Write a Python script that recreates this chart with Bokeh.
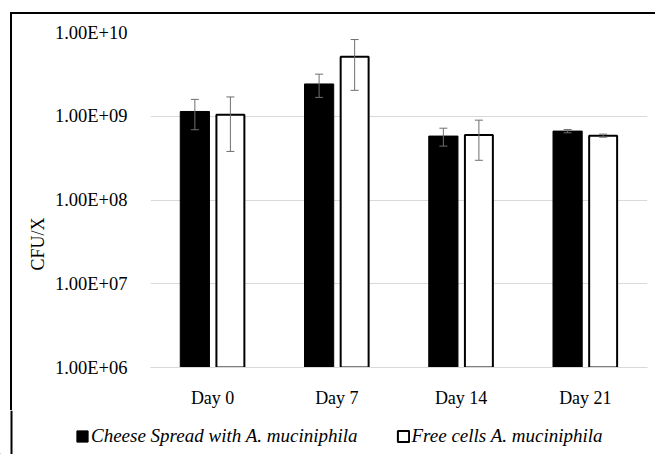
from bokeh.plotting import figure
from bokeh.layouts import column, row
from bokeh.models import (ColumnDataSource, Range1d, FixedTicker, CustomJSTickFormatter,
                          Whisker, TeeHead, Legend, LegendItem, Title, Span)
from bokeh.transform import dodge
from bokeh.embed import file_html
from bokeh.resources import INLINE

days = ["Day 0", "Day 7", "Day 14", "Day 21"]
cheese = [1.14e9, 2.43e9, 5.8e8, 6.65e8]
cheese_err = [0.45e9, 0.75e9, 0.14e9, 0.03e9]
free = [1.04e9, 5.14e9, 5.98e8, 5.87e8]
free_err = [0.66e9, 3.1e9, 0.30e9, 0.025e9]
y_ticks = [1e6, 1e7, 1e8, 1e9, 1e10]
series_names = ["Cheese Spread with A. muciniphila", "Free cells A. muciniphila"]

src = ColumnDataSource(dict(
    day=days,
    cheese=cheese,
    cheese_lo=[v - e for v, e in zip(cheese, cheese_err)],
    cheese_hi=[v + e for v, e in zip(cheese, cheese_err)],
    free=free,
    free_lo=[v - e for v, e in zip(free, free_err)],
    free_hi=[v + e for v, e in zip(free, free_err)],
))

FONT = "Liberation Serif"
BLACK_STYLE = dict(fill_color="black", line_color="black", line_width=1)
WHITE_STYLE = dict(fill_color="white", line_color="black", line_width=2)

p = figure(width=655, height=410, x_range=days, y_axis_type="log",
           y_range=Range1d(1e6, 1e10), output_backend="svg", toolbar_location=None,
           min_border_left=150, min_border_right=8, min_border_top=32, min_border_bottom=37)
p.outline_line_color = None
p.background_fill_color = "white"
p.border_fill_color = None
p.styles = {
    "background-color": "white",
    "background-image": "linear-gradient(black, black), linear-gradient(black, black)",
    "background-size": "2px 100%, 100% 2px",
    "background-position": "10px 12px, 10px 12px",
    "background-repeat": "no-repeat",
}

off = 0.143
r1 = p.vbar(x=dodge("day", -off, range=p.x_range), top="cheese", bottom=1e6, width=0.235,
            source=src, **BLACK_STYLE)
r2 = p.vbar(x=dodge("day", off, range=p.x_range), top="free", bottom=1e6, width=0.225,
            source=src, **WHITE_STYLE)

ecol = "#6f6f6f"
for key, o in (("cheese", -off), ("free", off)):
    w = Whisker(base=dodge("day", o, range=p.x_range), upper=key + "_hi", lower=key + "_lo",
                source=src, line_color=ecol, line_width=1, level="overlay",
                upper_head=TeeHead(size=8, line_color=ecol, line_width=1),
                lower_head=TeeHead(size=8, line_color=ecol, line_width=1))
    p.add_layout(w)

p.yaxis.ticker = FixedTicker(ticks=y_ticks, minor_ticks=[])
p.yaxis.formatter = CustomJSTickFormatter(code="""
    const e = Math.round(Math.log10(tick));
    const m = tick / Math.pow(10, e);
    const es = (e < 10 ? "0" + e : "" + e);
    return m.toFixed(2) + "E+" + es;
""")
p.yaxis.axis_line_color = None
p.yaxis.major_tick_line_color = None
p.yaxis.minor_tick_line_color = None
p.yaxis.major_label_standoff = 17
p.yaxis.major_label_text_font = FONT
p.yaxis.major_label_text_font_size = "18.5px"
p.yaxis.major_label_text_color = "black"

p.xaxis.axis_line_color = "#d9d9d9"
p.xaxis.major_tick_line_color = None
p.xaxis.minor_tick_line_color = None
p.xaxis.major_label_standoff = 14
p.xaxis.major_label_text_font = FONT
p.xaxis.major_label_text_font_size = "18px"
p.xaxis.major_label_text_color = "black"

p.xgrid.grid_line_color = None
p.ygrid.grid_line_color = "#d9d9d9"
p.ygrid.grid_line_width = 1

p.add_layout(Title(text="CFU/X", align="left", offset=97, vertical_align="middle",
                   text_font=FONT, text_font_size="18px", text_font_style="normal",
                   text_color="black", standoff=5), "left")

# legend strip below the chart
q = figure(width=655, height=44, x_range=Range1d(0, 1), y_range=Range1d(0, 1),
           output_backend="svg", toolbar_location=None,
           x_axis_location=None, y_axis_location=None,
           min_border_left=0, min_border_right=0, min_border_top=0, min_border_bottom=0)
q.outline_line_color = None
q.background_fill_color = "white"
q.border_fill_color = "white"
q.grid.visible = False
q.add_layout(Span(location=11, location_units="screen", dimension="height",
                  line_color="black", line_width=2))
# legend-only renderers, placed far outside the visible area
hidden = ColumnDataSource(dict(x=[-50.0], top=[-40.0], bottom=[-60.0]))
l1 = q.vbar(x="x", top="top", bottom="bottom", width=0.1, source=hidden, **BLACK_STYLE)
l2 = q.vbar(x="x", top="top", bottom="bottom", width=0.1, source=hidden, **WHITE_STYLE)
legend = Legend(items=[LegendItem(label=series_names[0], renderers=[l1]),
                       LegendItem(label=series_names[1], renderers=[l2])],
                orientation="horizontal", location=(75, 7),
                glyph_width=14, glyph_height=14, label_standoff=2, spacing=38,
                padding=0, margin=0, border_line_alpha=0, background_fill_alpha=0,
                label_text_font=FONT, label_text_font_style="italic",
                label_text_font_size="19px", label_text_color="black")
q.add_layout(legend)

layout = column(p, row(q), spacing=0)

open("out.html", "w").write(file_html(layout, INLINE))
